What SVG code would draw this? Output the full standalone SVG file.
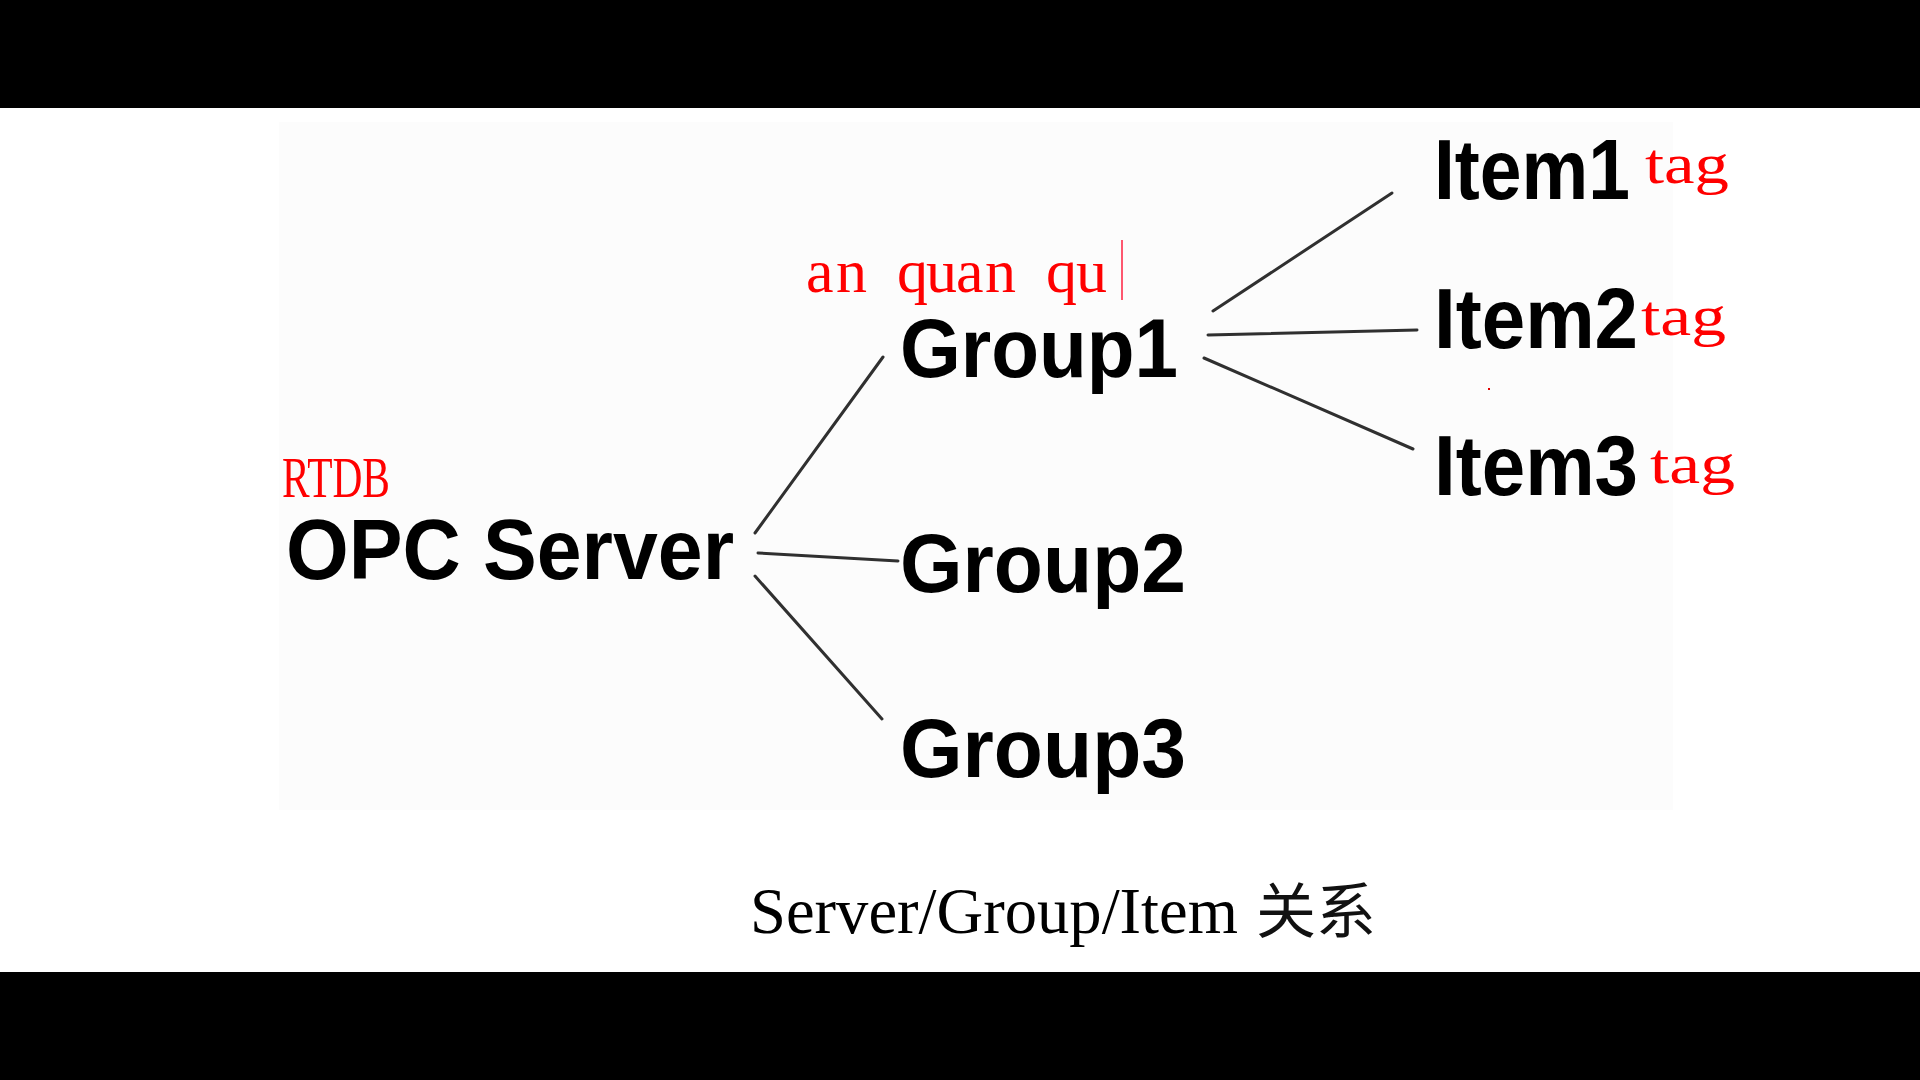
<svg xmlns="http://www.w3.org/2000/svg" width="1920" height="1080" viewBox="0 0 1920 1080">
  <style>
    .lbl { font-family: "Liberation Sans", Arial, sans-serif; font-weight: bold; fill: #000; }
    .red { font-family: "Liberation Serif", "Times New Roman", serif; fill: #ff0000; }
    .cap { font-family: "Liberation Serif", "Times New Roman", serif; fill: #000; }
    .cjk { font-family: "Noto Sans CJK SC", sans-serif; fill: #111; }
    .conn line { stroke: #303030; stroke-width: 3; stroke-linecap: round; }
  </style>
  <rect x="0" y="0" width="1920" height="1080" fill="#ffffff"/>
  <rect x="0" y="0" width="1920" height="108" fill="#000000"/>
  <rect x="0" y="972" width="1920" height="108" fill="#000000"/>
  <rect x="279" y="122" width="1394" height="688" fill="#fcfcfc"/>

  <g id="connectors" class="conn">
    <line x1="755" y1="533" x2="883" y2="357"/>
    <line x1="758" y1="553" x2="898" y2="561"/>
    <line x1="755" y1="576" x2="882" y2="719"/>
    <line x1="1213" y1="311" x2="1392" y2="193"/>
    <line x1="1208" y1="335" x2="1417" y2="330"/>
    <line x1="1204" y1="358" x2="1413" y2="449"/>
  </g>

  <g id="opc-server">
    <text class="red" x="282" y="497" font-size="56" textLength="108" lengthAdjust="spacingAndGlyphs">RTDB</text>
    <text class="lbl" x="286" y="579" font-size="86" textLength="448" lengthAdjust="spacingAndGlyphs">OPC Server</text>
  </g>

  <g id="group1">
    <text class="red" font-size="62" y="292"><tspan x="806">a</tspan><tspan x="836">n</tspan><tspan x="897">q</tspan><tspan x="926">u</tspan><tspan x="956">a</tspan><tspan x="985">n</tspan><tspan x="1046">q</tspan><tspan x="1076">u</tspan></text>
    <line x1="1122" y1="240" x2="1122" y2="300" stroke="#ff2040" stroke-width="1.5"/>
    <text class="lbl" x="900" y="377" font-size="83" textLength="278" lengthAdjust="spacingAndGlyphs">Group1</text>
  </g>

  <g id="group2">
    <text class="lbl" x="900" y="592" font-size="83" textLength="286" lengthAdjust="spacingAndGlyphs">Group2</text>
  </g>

  <g id="group3">
    <text class="lbl" x="900" y="777" font-size="83" textLength="286" lengthAdjust="spacingAndGlyphs">Group3</text>
  </g>

  <g id="item1">
    <text class="lbl" x="1434" y="199" font-size="85" textLength="196" lengthAdjust="spacingAndGlyphs">Item1</text>
    <text class="red" x="1645" y="183" font-size="56" textLength="84" lengthAdjust="spacingAndGlyphs">tag</text>
  </g>

  <g id="item2">
    <text class="lbl" x="1434" y="348" font-size="85" textLength="204" lengthAdjust="spacingAndGlyphs">Item2</text>
    <text class="red" x="1641" y="335" font-size="56" textLength="85" lengthAdjust="spacingAndGlyphs">tag</text>
  </g>

  <g id="item3">
    <text class="lbl" x="1434" y="495" font-size="85" textLength="204" lengthAdjust="spacingAndGlyphs">Item3</text>
    <text class="red" x="1650" y="483" font-size="56" textLength="85" lengthAdjust="spacingAndGlyphs">tag</text>
  </g>

  <rect x="1488" y="388" width="2" height="2" fill="#e00000"/>

  <g id="caption">
    <text class="cap" x="750" y="933" font-size="66" textLength="488" lengthAdjust="spacingAndGlyphs">Server/Group/Item</text>
    <text class="cjk" x="1256" y="933" font-size="60" textLength="120" lengthAdjust="spacingAndGlyphs">关系</text>
  </g>
</svg>
